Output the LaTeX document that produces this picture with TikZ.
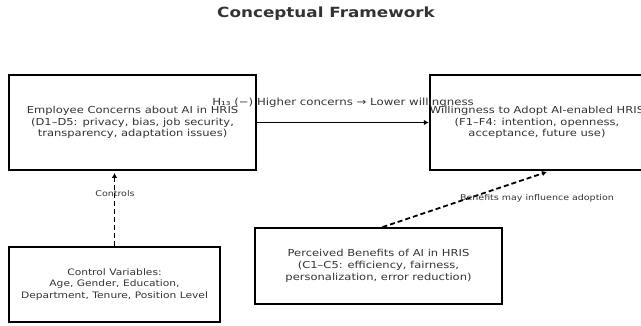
\documentclass[tikz,border=0pt]{standalone}
\usepackage{fontspec}
\setmainfont{DejaVu Sans}
\usetikzlibrary{arrows.meta,calc}
\definecolor{txt}{HTML}{333333}
\tikzset{
  wide/.style={xscale=1.2, transform shape},
  box/.style={wide, draw=black, line width=1.8pt, rectangle, inner sep=0pt,
    align=center, text=txt, font=\fontsize{9.6}{11.7}\selectfont},
  lbl/.style={wide, text=txt, inner sep=0pt, font=\fontsize{7.9}{9}\selectfont},
  link/.style={line width=1.8pt, -{Latex[length=5pt,width=5.5pt]}},
  dashlink/.style={link, dash pattern=on 5pt off 3pt}
}
\begin{document}
\begin{tikzpicture}[x=1pt,y=-1pt]
\useasboundingbox (0,0) rectangle (641,325);
\node[wide, font=\bfseries\fontsize{14}{16}\selectfont, text=txt] (title) at (326,13.5) {Conceptual Framework};

\node[box, minimum width=205.8pt, minimum height=95pt] (concerns) at (132.5,122.5)
  {Employee Concerns about AI in HRIS\\(D1–D5: privacy, bias, job security,\\transparency, adaptation issues)};
\node[box, minimum width=176.7pt, minimum height=95pt] (willing) at (537,122.5)
  {Willingness to Adopt AI-enabled HRIS\\(F1–F4: intention, openness,\\acceptance, future use)};
\node[box, minimum width=175.8pt, minimum height=75.5pt,
      font=\fontsize{8.9}{11.9}\selectfont] (control) at (114.5,284.5)
  {Control Variables:\\Age, Gender, Education,\\Department, Tenure, Position Level};
\node[box, minimum width=205.8pt, minimum height=76pt] (benefits) at (378.5,266)
  {Perceived Benefits of AI in HRIS\\(C1–C5: efficiency, fairness,\\personalization, error reduction)};

\draw[link] (concerns.east) -- (willing.west);
\draw[dashlink] (control.north) -- ($(control.north |- concerns.south)+(0,2)$);
\draw[dashlink] ($(benefits.north)+(4,0)$) -- ($(willing.south)+(10,1)$);

\node[wide, text=txt, inner sep=0pt, font=\fontsize{9.8}{11.7}\selectfont] (hlabel) at (343,102.5)
  {H₁₃ (−)  Higher concerns → Lower willingness};
\node[lbl] (ctrllabel) at (115,194) {Controls};
\node[lbl] (benlabel) at (537,198) {Benefits may influence adoption};
\end{tikzpicture}
\end{document}
